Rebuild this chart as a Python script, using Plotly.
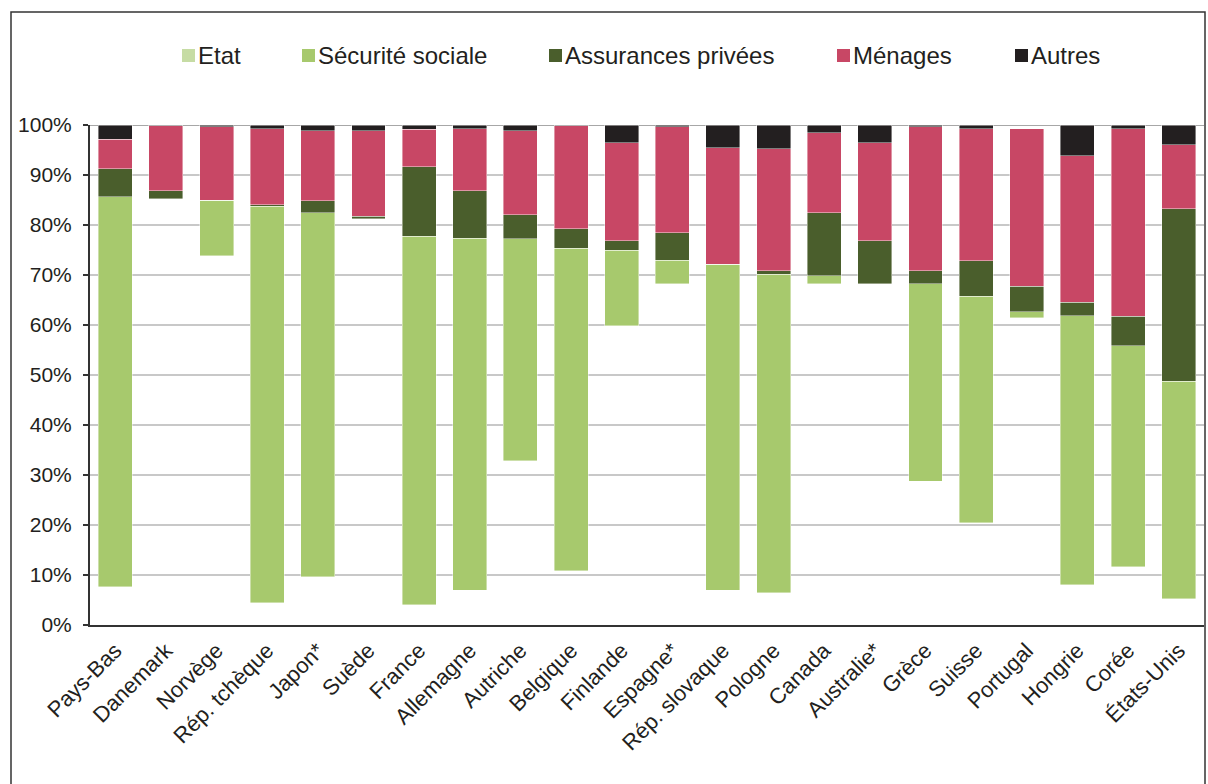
import plotly.graph_objects as go

countries = ["Pays-Bas", "Danemark", "Norvège", "Rép. tchèque", "Japon*", "Suède", "France",
             "Allemagne", "Autriche", "Belgique", "Finlande", "Espagne*", "Rép. slovaque",
             "Pologne", "Canada", "Australie*", "Grèce", "Suisse", "Portugal", "Hongrie",
             "Corée", "États-Unis"]
etat = [7.7, 85.3, 73.9, 4.5, 9.7, 81.3, 4.1, 7.0, 32.9, 10.9, 59.9, 68.3, 7.0, 6.5, 68.3,
        68.3, 28.8, 20.5, 61.5, 8.1, 11.7, 5.3]
secu = [78.0, 0, 11.1, 79.3, 72.8, 0, 73.7, 70.4, 44.4, 64.5, 15.1, 4.7, 65.2, 63.7, 1.6,
        0, 39.5, 45.3, 1.2, 53.8, 44.2, 43.5]
assur = [5.6, 1.6, 0, 0.3, 2.4, 0.5, 13.9, 9.5, 4.8, 3.9, 1.9, 5.5, 0, 0.7, 12.6, 8.6, 2.6,
         7.1, 5.1, 2.7, 5.9, 34.5]
menages = [5.9, 13.0, 14.7, 15.2, 14.0, 17.1, 7.5, 12.4, 16.8, 20.6, 19.6, 21.2, 23.3, 24.4,
           16.0, 19.6, 28.8, 26.4, 31.5, 29.3, 37.5, 12.8]
autres = [2.8, 0.1, 0.3, 0.7, 1.1, 1.1, 0.8, 0.7, 1.1, 0.1, 3.5, 0.3, 4.5, 4.7, 1.5, 3.5, 0.3,
          0.7, 0, 6.1, 0.7, 3.9]

names = ["Etat", "Sécurité sociale", "Assurances privées", "Ménages", "Autres"]
series = [etat, secu, assur, menages, autres]
bar_colors = ["rgba(0,0,0,0)", "#a7c96d", "#4a5e2c", "#c84765", "#231f20"]
legend_colors = ["#c6dca4", "#a7c96d", "#4a5e2c", "#c84765", "#231f20"]

W, H = 1208, 784
ML, MR, MT, MB = 90, 4, 125, 159
PW, PH = W - ML - MR, H - MT - MB


def px(x):
    return (x - ML) / PW


def py(y):
    return (H - MB - y) / PH


FONT = "Liberation Sans, Arial, sans-serif"
TXT = "#231f20"

fig = go.Figure()
for i, (nm, vals) in enumerate(zip(names, series)):
    fig.add_trace(go.Bar(
        x=countries, y=vals, name=nm, showlegend=False,
        marker=dict(color=bar_colors[i],
                    line=dict(width=0 if i == 0 else 0.6,
                              color="rgba(255,255,255,0.7)")),
    ))

shapes = []
annotations = []
# outer frame
shapes.append(dict(type="rect", xref="paper", yref="paper",
                   x0=px(11), x1=px(1205), y0=py(800), y1=py(12),
                   line=dict(color="#333333", width=1.5), fillcolor="rgba(0,0,0,0)",
                   layer="below"))
# 100% line
shapes.append(dict(type="line", xref="paper", yref="y", x0=0, x1=1, y0=100, y1=100,
                   line=dict(color="#8a8a8a", width=1.5), layer="below"))

# manual legend
sw_x = [182, 302, 549, 837, 1015]
for i, nm in enumerate(names):
    shapes.append(dict(type="rect", xref="paper", yref="paper",
                       x0=px(sw_x[i]), x1=px(sw_x[i] + 13), y0=py(62), y1=py(49),
                       fillcolor=legend_colors[i], line=dict(width=0)))
    annotations.append(dict(xref="paper", yref="paper", x=px(sw_x[i] + 14), y=py(55.5),
                            xanchor="left", yanchor="middle", text=nm, showarrow=False,
                            font=dict(family=FONT, size=24, color=TXT)))

fig.update_layout(
    width=W, height=H,
    margin=dict(l=ML, r=MR, t=MT, b=MB, pad=0),
    barmode="stack", bargap=0.33,
    plot_bgcolor="white", paper_bgcolor="white",
    font=dict(family=FONT, size=20, color=TXT),
    shapes=shapes, annotations=annotations,
    xaxis=dict(tickangle=-45, showline=True, linecolor="#333333", linewidth=2,
               ticks="", tickfont=dict(size=22, family=FONT, color=TXT),
               showgrid=False, ticklabelstandoff=2),
    yaxis=dict(range=[0, 100], dtick=10, ticksuffix="%", showline=True,
               linecolor="#333333", linewidth=2, ticks="outside", ticklen=5,
               tickcolor="#333333", tickwidth=1.5, ticklabelstandoff=7,
               showgrid=True, gridcolor="#c8c8c8", gridwidth=1.5,
               zeroline=False, tickfont=dict(size=21, family=FONT, color=TXT)),
)

fig.write_html("out.html")
